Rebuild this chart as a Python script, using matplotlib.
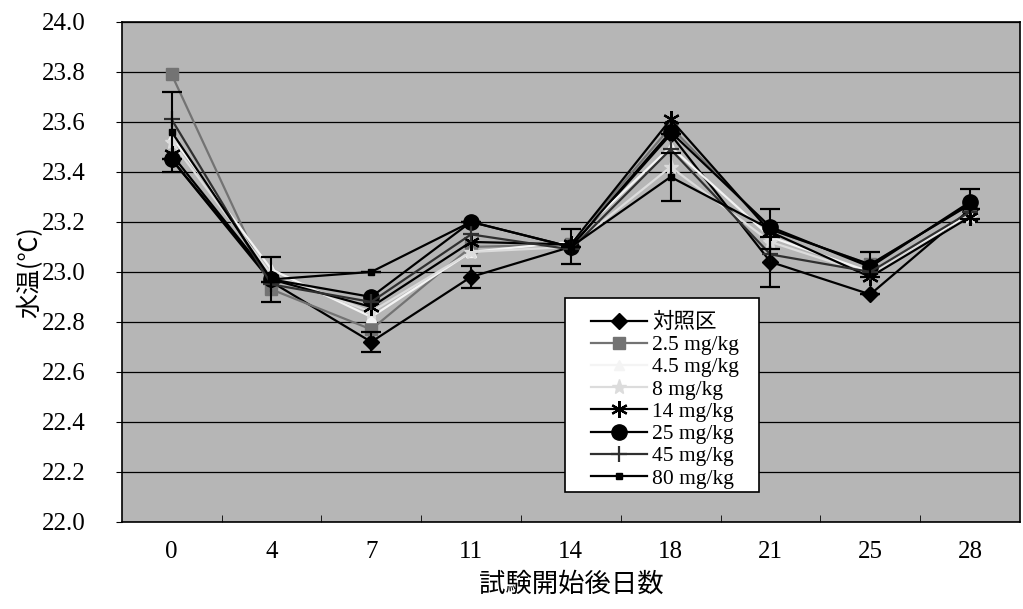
import numpy as np
import matplotlib
matplotlib.use("Agg")
import matplotlib.pyplot as plt
from matplotlib.patches import Rectangle

days = ["0", "4", "7", "11", "14", "18", "21", "25", "28"]

ctrl   = [23.45, 22.96, 22.72, 22.98, 23.10, 23.55, 23.04, 22.91, 23.25]
d2_5   = [23.79, 22.93, 22.77, 23.10, 23.11, 23.58, 23.17, 23.03, 23.27]
d4_5   = [23.54, 23.01, 22.82, 23.08, 23.12, 23.50, 23.14, 23.00, 23.23]
d8     = [23.52, 22.99, 22.84, 23.08, 23.10, 23.42, 23.12, 22.99, 23.22]
d14    = [23.47, 22.97, 22.86, 23.12, 23.11, 23.61, 23.16, 22.98, 23.22]
d25    = [23.45, 22.97, 22.90, 23.20, 23.10, 23.56, 23.18, 23.02, 23.28]
d45    = [23.61, 22.95, 22.88, 23.15, 23.09, 23.49, 23.07, 23.00, 23.24]
d80    = [23.56, 22.97, 23.00, 23.20, 23.10, 23.38, 23.17, 23.03, 23.27]

ctrl_err = [0.00, 0.00, 0.04, 0.045, 0.00, 0.00, 0.10, 0.00, 0.00]
d80_err  = [0.16, 0.09, 0.00, 0.00, 0.07, 0.095, 0.08, 0.05, 0.06]

labels = ["対照区", "2.5 mg/kg", "4.5 mg/kg", "8 mg/kg", "14 mg/kg",
          "25 mg/kg", "45 mg/kg", "80 mg/kg"]

serif = ["Liberation Serif", "Noto Sans CJK JP"]
jp = ["Noto Sans CJK JP", "DejaVu Sans"]

fig = plt.figure(figsize=(10.23, 6.09), dpi=100)
ax = fig.add_axes([0.119, 0.143, 0.878, 0.821])
ax.set_facecolor("#b6b6b6")

x = np.arange(len(days))

# line styles per series: (values, color, marker, size, edge width, face)
styles = [
    (ctrl, "black", "D", 8, 1.0, "black"),
    (d2_5, "#737373", "s", 9, 1.0, "#737373"),
    (d4_5, "#f4f4f4", "^", 7, 1.0, "#f4f4f4"),
    (d8, "#dcdcdc", "*", 11, 1.0, "#dcdcdc"),
    (d14, "black", (6, 2, 0), 12, 1.6, "black"),
    (d25, "black", "o", 11, 1.0, "black"),
    (d45, "#303030", "+", 11, 1.6, "#303030"),
    (d80, "black", "s", 4, 1.0, "black"),
]

for (vals, col, mk, ms, mew, fc), lab in zip(styles, labels):
    ax.plot(x, vals, color=col, lw=1.6, marker=mk, ms=ms, mew=mew,
            mec=col, mfc=fc, label=lab, zorder=3)

ax.errorbar(x, ctrl, yerr=ctrl_err, fmt="none", ecolor="black",
            elinewidth=1.5, capsize=7, capthick=1.6, zorder=4)
ax.errorbar(x, d80, yerr=d80_err, fmt="none", ecolor="black",
            elinewidth=1.5, capsize=7, capthick=1.6, zorder=4)

ax.set_xlim(-0.5, len(days) - 0.5)
ax.set_ylim(22.0, 24.0)
ax.set_yticks(np.arange(22.0, 24.01, 0.2))
ax.set_yticklabels([f"{v:.1f}" for v in np.arange(22.0, 24.01, 0.2)],
                   family=serif, fontsize=18)
ax.set_xticks(x)
ax.set_xticklabels(days, family=serif, fontsize=18)
ax.set_xticks(np.arange(0.5, len(days) - 1, 1.0), minor=True)
ax.tick_params(axis="x", which="major", length=0, pad=14)
ax.tick_params(axis="x", which="minor", direction="in", length=5)
ax.tick_params(axis="y", direction="out", length=4, pad=22)

ax.yaxis.grid(True, color="black", lw=0.9)
ax.set_axisbelow(True)
for s in ax.spines.values():
    s.set_color("black")
    s.set_linewidth(1.2)

ax.set_ylabel("水温(℃)", family=jp, fontsize=18, labelpad=-1)
ax.set_xlabel("試験開始後日数", family=jp, fontsize=19, labelpad=5)

# legend box drawn separately so the padding can be wider than tall
ax.add_patch(Rectangle((0.493, 0.06), 0.217, 0.388, transform=ax.transAxes,
                       facecolor="white", edgecolor="black", lw=1.2,
                       zorder=5))
leg = ax.legend(loc="upper left", bbox_to_anchor=(0.522, 0.418),
                prop={"family": serif, "size": 15.5}, frameon=False,
                borderaxespad=0, borderpad=0, handlelength=2.6,
                labelspacing=0.1, handletextpad=0.25)
leg.set_zorder(6)

fig.savefig("out.png", dpi=100, facecolor="white")
